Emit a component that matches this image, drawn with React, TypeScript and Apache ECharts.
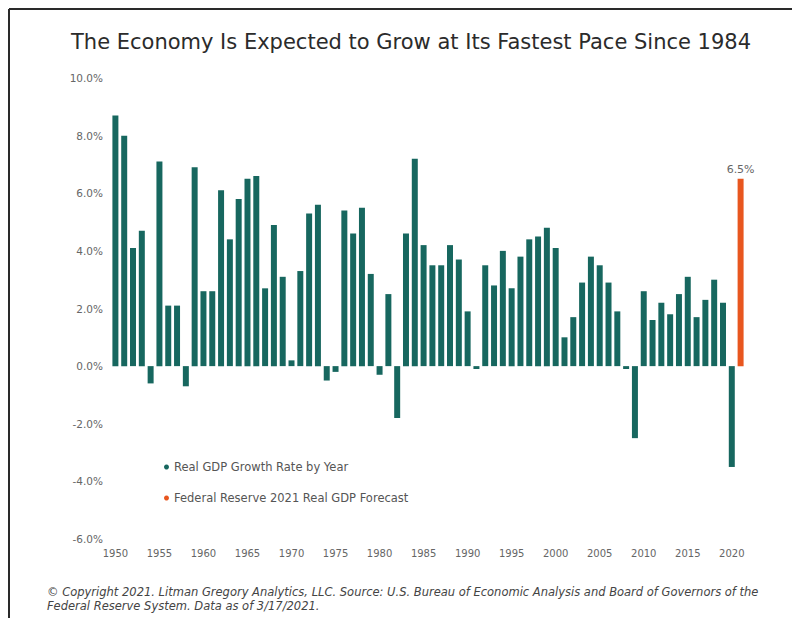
import React, { useEffect, useRef } from "react";
import * as echarts from "echarts";

const years: string[] = [];
for (let y = 1950; y <= 2021; y++) years.push(String(y));

const gdpGrowth: (number | null)[] = [
  8.7, 8.0, 4.1, 4.7, -0.6, 7.1, 2.1, 2.1, -0.7, 6.9,
  2.6, 2.6, 6.1, 4.4, 5.8, 6.5, 6.6, 2.7, 4.9, 3.1,
  0.2, 3.3, 5.3, 5.6, -0.5, -0.2, 5.4, 4.6, 5.5, 3.2,
  -0.3, 2.5, -1.8, 4.6, 7.2, 4.2, 3.5, 3.5, 4.2, 3.7,
  1.9, -0.1, 3.5, 2.8, 4.0, 2.7, 3.8, 4.4, 4.5, 4.8,
  4.1, 1.0, 1.7, 2.9, 3.8, 3.5, 2.9, 1.9, -0.1, -2.5,
  2.6, 1.6, 2.2, 1.8, 2.5, 3.1, 1.7, 2.3, 3.0, 2.2,
  -3.5, null,
];

const forecast: (number | null)[] = years.map((y) => (y === "2021" ? 6.5 : null));

const TEAL = "#17675f";
const ORANGE = "#e8561f";
const FONT = "'DejaVu Sans', 'Noto Sans', sans-serif";

export default function App() {
  const ref = useRef<HTMLDivElement>(null);
  useEffect(() => {
    if (!ref.current) return;
    const chart = echarts.init(ref.current, undefined, { renderer: "svg" });
    chart.setOption({
      animation: false,
      backgroundColor: "#ffffff",
      textStyle: { fontFamily: FONT },
      title: {
        text: "The Economy Is Expected to Grow at Its Fastest Pace Since 1984",
        left: 66,
        top: 26,
        textStyle: { fontSize: 21, fontWeight: "normal", color: "#2b2b2b", fontFamily: FONT },
      },
      legend: {
        orient: "vertical",
        left: 159,
        top: 456,
        itemGap: 19,
        icon: "circle",
        itemWidth: 5,
        itemHeight: 5,
        textStyle: { fontSize: 11.5, color: "#555", fontFamily: FONT },
        data: ["Real GDP Growth Rate by Year", "Federal Reserve 2021 Real GDP Forecast"],
      },
      grid: { left: 111, right: 47, top: 78, bottom: 79, containLabel: false },
      xAxis: {
        type: "category",
        data: years,
        axisLine: { show: false },
        axisTick: { show: false },
        axisLabel: { interval: 4, color: "#666", fontSize: 10, margin: 9, fontFamily: FONT },
      },
      yAxis: {
        type: "value",
        min: -6,
        max: 10,
        interval: 2,
        splitLine: { show: false },
        axisLine: { show: false },
        axisTick: { show: false },
        axisLabel: {
          color: "#666",
          fontSize: 10.5,
          margin: 8,
          fontFamily: FONT,
          formatter: (v: number) => v.toFixed(1) + "%",
        },
      },
      series: [
        {
          name: "Real GDP Growth Rate by Year",
          type: "bar",
          data: gdpGrowth,
          itemStyle: { color: TEAL },
          barWidth: "68%",
          barGap: "-100%",
        },
        {
          name: "Federal Reserve 2021 Real GDP Forecast",
          type: "bar",
          data: forecast,
          itemStyle: { color: ORANGE },
          barWidth: "68%",
          label: {
            show: true,
            position: "top",
            distance: 4,
            formatter: (p: any) => p.value + "%",
            color: "#666",
            fontSize: 11,
            fontFamily: FONT,
          },
        },
      ],
      graphic: [
        { type: "line", shape: { x1: 9, y1: 9, x2: 792, y2: 9 }, style: { stroke: "#2a2a2a", lineWidth: 2 } },
        { type: "line", shape: { x1: 9, y1: 9, x2: 9, y2: 618 }, style: { stroke: "#2a2a2a", lineWidth: 2 } },
        {
          type: "text",
          left: 47,
          top: 585,
          style: {
            text:
              "© Copyright 2021. Litman Gregory Analytics, LLC. Source: U.S. Bureau of Economic Analysis and Board of Governors of the\nFederal Reserve System. Data as of 3/17/2021.",
            fontSize: 11.5,
            fontStyle: "italic",
            fill: "#444",
            lineHeight: 14,
            fontFamily: FONT,
          },
        },
      ],
    });
    return () => chart.dispose();
  }, []);
  return (
    <div
      ref={ref}
      style={{ position: "absolute", left: 0, top: 0, width: 792, height: 618 }}
    />
  );
}
